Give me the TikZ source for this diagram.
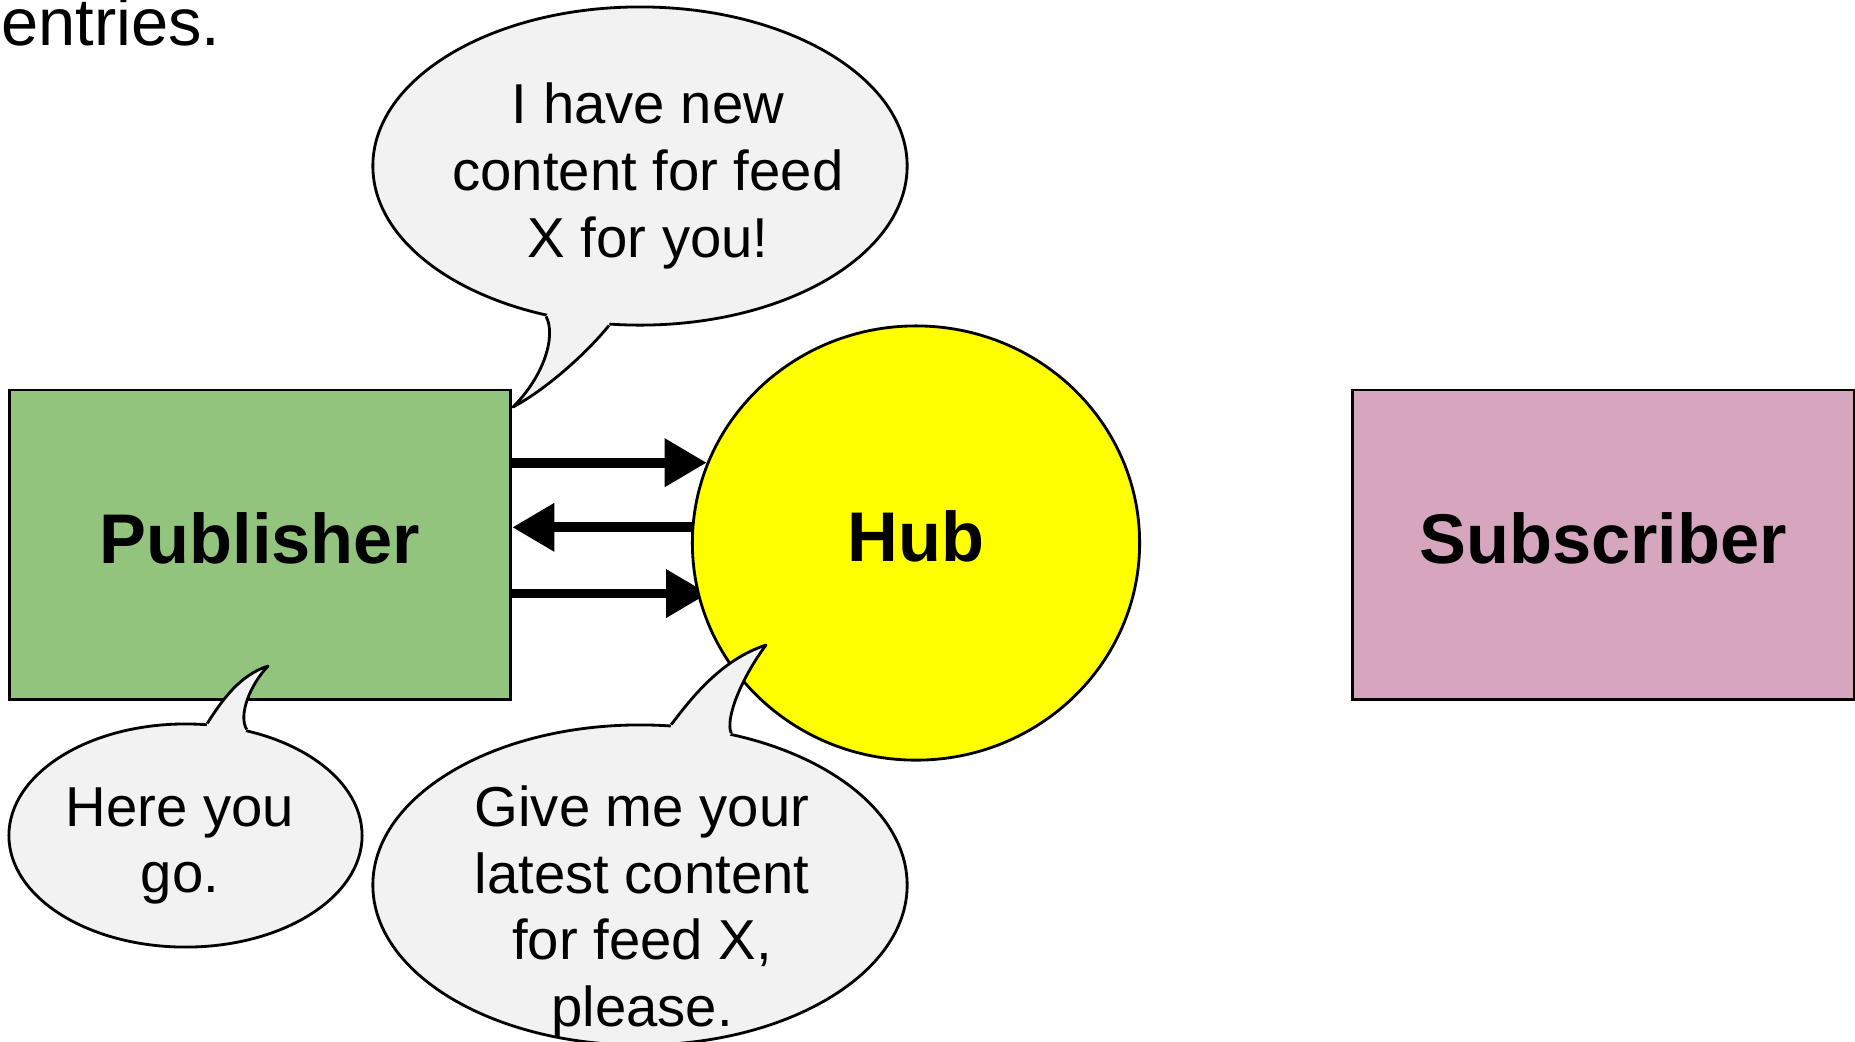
\documentclass[tikz,border=0pt]{standalone}
\usepackage{fontspec}
\setmainfont{Liberation Sans}
\usetikzlibrary{shapes.geometric,arrows.meta,backgrounds}

\definecolor{pubgreen}{HTML}{93C47D}
\definecolor{subpink}{HTML}{D5A6BD}
\definecolor{bubblegray}{HTML}{F2F2F2}
\definecolor{hubyellow}{HTML}{FFFF00}

\tikzset{
	actor/.style={draw, line width=0.8pt, rectangle, inner sep=0pt, minimum width=5.015cm, minimum height=3.09cm, font=\fontsize{20}{24}\selectfont\bfseries, text depth=0.14cm},
	hubnode/.style={draw, line width=0.8pt, ellipse, inner sep=0pt, fill=hubyellow, minimum width=4.47cm, minimum height=4.34cm, font=\fontsize{20}{24}\selectfont\bfseries, text depth=0.14cm},
	bubble/.style={draw, line width=0.8pt, ellipse, inner sep=0pt, fill=bubblegray},
	saying/.style={align=center, inner sep=0pt, font=\fontsize{16}{19}\selectfont},
	tail/.style={line width=0.8pt, line join=round},
	msg/.style={line width=2.8pt, -{Triangle[length=0.42cm, width=0.46cm]}}
}

\begin{document}
\begin{tikzpicture}[x=0.01cm, y=-0.01cm]
			%%%%% START %%%%%
			\useasboundingbox (0, 0) rectangle (1855, 1041);
			
			\node[anchor=base east, inner sep=0pt, font=\fontsize{19}{23}\selectfont] (entries) at (221, 45) {entries.};
			
			\node[actor, fill=pubgreen] (pub) at (260, 544.5) {Publisher};
			\node[hubnode] (hub) at (916, 543) {Hub};
			\node[actor, fill=subpink] (sub) at (1603, 544.5) {Subscriber};
			
			\begin{scope}[on background layer]
				\draw[msg] (pub.east |- hub.159) -- (hub.159);
				\draw[msg] (hub.176) -- (pub.east |- hub.176);
				\draw[msg, shorten >=-0.11cm] (pub.east |- hub.-167) -- (hub.-167);
			\end{scope}
			
			% top bubble
			\node[bubble, minimum width=5.34cm, minimum height=3.18cm] (newBub) at (640, 166) {};
			\coordinate (newTip) at (513, 407);
			\fill[bubblegray] (newBub.-122) .. controls (556, 335) and (545, 375) .. (newTip) .. controls (545, 390) and (585, 355) .. (newBub.-101) -- (newBub.center) -- cycle;
			\draw[tail] (newBub.-122) .. controls (556, 335) and (545, 375) .. (newTip) .. controls (545, 390) and (585, 355) .. (newBub.-101);
			\node[saying] (newTxt) at (648, 176) {I have new\\content for feed\\X for you!};
			
			% bottom left bubble
			\node[bubble, minimum width=3.53cm, minimum height=2.23cm] (goBub) at (185.5, 835.5) {};
			\coordinate (goTip) at (268, 666);
			\fill[bubblegray] (goBub.79) .. controls (222, 700) and (240, 675) .. (goTip) .. controls (250, 685) and (238, 715) .. (goBub.60) -- (goBub.center) -- cycle;
			\draw[tail] (goBub.79) .. controls (222, 700) and (240, 675) .. (goTip) .. controls (250, 685) and (238, 715) .. (goBub.60);
			\node[saying] (goTxt) at (180, 846) {Here you\\go.};
			
			% bottom middle bubble
			\node[bubble, minimum width=5.34cm, minimum height=3.2cm] (giveBub) at (640, 885) {};
			\coordinate (giveTip) at (766, 645);
			\fill[bubblegray] (giveBub.79) .. controls (690, 700) and (720, 660) .. (giveTip) .. controls (740, 680) and (725, 720) .. (giveBub.59) -- (giveBub.center) -- cycle;
			\draw[tail] (giveBub.79) .. controls (690, 700) and (720, 660) .. (giveTip) .. controls (740, 680) and (725, 720) .. (giveBub.59);
			\node[saying] (giveTxt) at (642, 912) {Give me your\\latest content\\for feed X,\\please.};
			
			%%%%% END %%%%%
\end{tikzpicture}
\end{document}
